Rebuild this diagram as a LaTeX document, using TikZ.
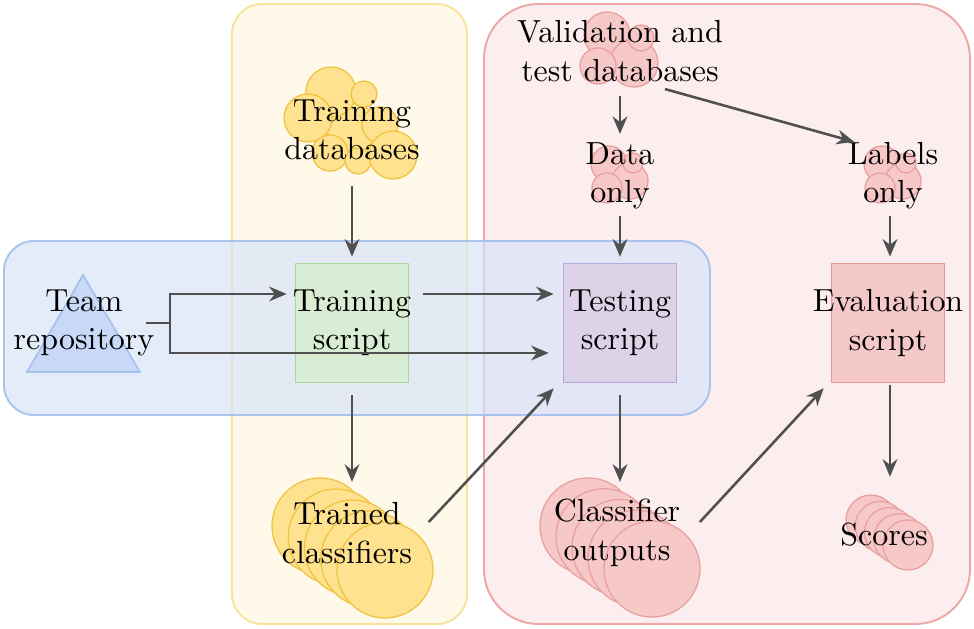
\documentclass[tikz,border=0pt]{standalone}
\usetikzlibrary{arrows.meta,positioning,calc}

\definecolor{yelregion}{HTML}{FFF9EA}
\definecolor{yelregionline}{HTML}{F8E39B}
\definecolor{pinkregion}{HTML}{FCEEEE}
\definecolor{pinkregionline}{HTML}{EEA6A6}
\definecolor{blueregion}{HTML}{D6E2F8}
\definecolor{blueregionline}{HTML}{A8C3EE}
\definecolor{trifill}{HTML}{C7D9F7}
\definecolor{triline}{HTML}{A3C0EE}
\definecolor{greenfill}{HTML}{D8EDD3}
\definecolor{greenline}{HTML}{ABD7A1}
\definecolor{purplefill}{HTML}{DCD3E8}
\definecolor{purpleline}{HTML}{B6A8D8}
\definecolor{redfill}{HTML}{F6C9C9}
\definecolor{redline}{HTML}{E89696}
\definecolor{yelblob}{HTML}{FFE28F}
\definecolor{yelblobline}{HTML}{F0C440}
\definecolor{pinkblob}{HTML}{F7C8C8}
\definecolor{pinkblobline}{HTML}{E9A0A0}
\definecolor{arrgray}{HTML}{505050}

\tikzset{
  region/.style={line width=0.6pt},
  scriptbox/.style={draw, line width=0.5pt, minimum width=1.243cm, minimum height=1.309cm, inner sep=0pt},
  blob/.style={line width=0.4pt},
}

\begin{document}
\begin{tikzpicture}[x=0.011cm, y=-0.011cm]
    \useasboundingbox (0,0) rectangle (974,629);

    % regions
    \draw[region, fill=yelregion, draw=yelregionline, rounded corners=0.33cm] (232,4) rectangle (467,624);
    \draw[region, fill=pinkregion, draw=pinkregionline, rounded corners=0.6cm] (484,4) rectangle (970,624);
    \draw[region, fill=blueregion, fill opacity=0.65, draw=blueregionline, rounded corners=0.33cm] (4,241) rectangle (710,415);

    % team repository
    \draw[fill=trifill, draw=triline, line width=0.5pt] (27,372) -- (83,275) -- (140,372) -- cycle;

    % databases
    \begin{scope}[blob, fill=yelblob, draw=yelblobline]
        \foreach \cx/\cy/\r in {352/128/25, 331/92/25, 308/118/24, 380/125/18, 364/94/13, 330/153/18, 358/161/13, 393/155/24}
            \filldraw (\cx,\cy) circle[radius=\r];
    \end{scope}
    \begin{scope}[blob, fill=pinkblob, draw=pinkblobline]
        \foreach \cx/\cy/\r in {607/35/23, 634/63/24, 598/66/18, 641/38/13}
            \filldraw (\cx,\cy) circle[radius=\r];
        \foreach \ox in {620,893}
            \foreach \dx/\dy/\r in {-11/-14/18, 10/3/18, -13/10/15, 13/-15/10}
                \filldraw ({\ox+\dx},{178+\dy}) circle[radius=\r];
    \end{scope}

    % stacks
    \foreach \i in {0,...,4} {
        \filldraw[blob, fill=yelblob, draw=yelblobline] ({320+16.25*\i},{526+11*\i}) circle[radius=48];
        \filldraw[blob, fill=pinkblob, draw=pinkblobline] ({588+16*\i},{526+10.75*\i}) circle[radius=48];
        \filldraw[blob, fill=pinkblob, draw=pinkblobline] ({871+9.25*\i},{520+6.25*\i}) circle[radius=25];
    }

    % nodes
    \node[scriptbox, fill=greenfill, draw=greenline] (train) at (352,323) {};
    \node[scriptbox, fill=purplefill, draw=purpleline] (test) at (620,323) {};
    \node[scriptbox, fill=redfill, draw=redline] (eval) at (888,323) {};

    \begin{scope}[every node/.style={align=center, inner sep=0pt}]
        \node (team) at (84,323) {Team\\repository};
        \node at (train) {Training\\script};
        \node at (test) {Testing\\script};
        \node at (eval) {Evaluation\\script};
        \node (traindb) at (352,130) {Training\\databases};
        \node (valdb) at (620,51) {Validation and\\test databases};
        \node (dataonly) at (620,176) {Data\\only};
        \node (labels) at (893,176) {Labels\\only};
        \node (trained) at (347,533) {Trained\\classifiers};
        \node (outputs) at (617,533) {Classifier\\outputs};
        \node (scores) at (884,535) {Scores};
        \coordinate (fork) at (170,323);
    \end{scope}

    % connectors
    \begin{scope}[>={Stealth[length=5.5pt, width=4.6pt]},
                  every edge/.style={draw=arrgray, line width=0.8pt}]
        \path [-] ($(team.east)+(-9,0)$) edge (fork);
        \path [->] (fork) edge[to path={|- (\tikztotarget)}] ($(train.west)+(-8,-29)$);
        \path [->] (fork) edge[to path={|- (\tikztotarget)}] ($(test.west)+(-14,30)$);
        \path [->] ($(train.east)+(14,-29)$) edge ($(test.west)+(-9,-29)$);
        \path [->] ($(traindb.south)+(0,25)$) edge ($(train.north)+(0,-6)$);
        \path [->] ($(valdb.south)+(0,14)$) edge ($(dataonly.north)+(0,-8)$);
        \path [->] ($(valdb.south)+(45,7)$) edge ($(labels.north west)+(7,0)$);
        \path [->] ($(dataonly.south)+(0,6)$) edge ($(test.north)+(0,-6)$);
        \path [->] ($(labels.south |- dataonly.south)+(-3,6)$) edge ($(eval.north)+(2,-6)$);
        \path [->] ($(train.south)+(0,12)$) edge ($(train.south |- trained.north)+(0,-20)$);
        \path [->] ($(trained.east)+(16,-11)$) edge ($(test.south west)+(-9,5)$);
        \path [->] ($(test.south)+(0,12)$) edge ($(test.south |- outputs.north)+(0,-17)$);
        \path [->] ($(outputs.east)+(19,-11)$) edge ($(eval.south west)+(-7,5)$);
        \path [->] ($(eval.south)+(2,2)$) edge ($(eval.south |- scores.north)+(2,-46)$);
    \end{scope}
\end{tikzpicture}
\end{document}
